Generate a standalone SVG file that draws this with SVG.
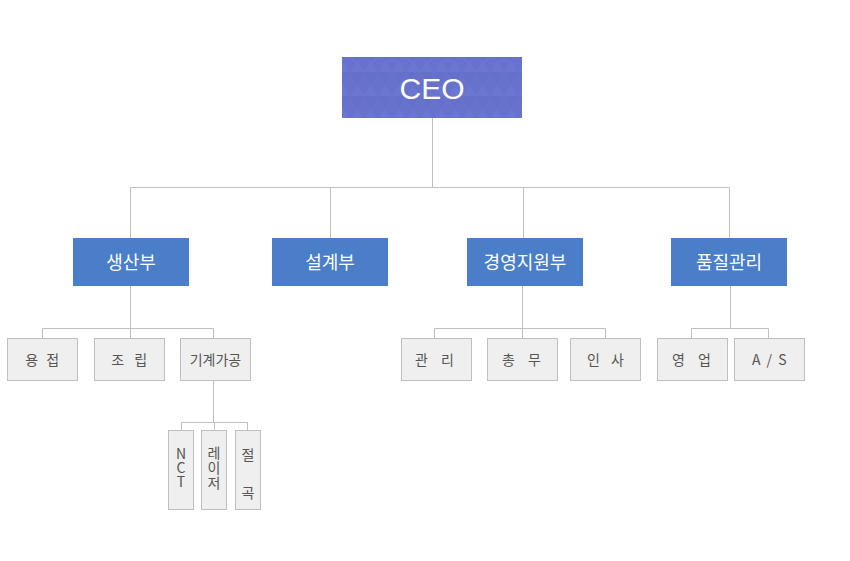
<svg xmlns="http://www.w3.org/2000/svg" width="850" height="561" viewBox="0 0 850 561">
<style>
.ln{stroke:#bfbfbf;stroke-width:1;fill:none}
.l2{fill:#4a7ec9}
.l3{fill:#efefef;stroke:#bfbfbf;stroke-width:1}
.t2{font-family:"Noto Sans CJK KR","Noto Sans",sans-serif;font-size:18px;fill:#ffffff;text-anchor:middle}
.t3{font-family:"Noto Sans CJK KR","Noto Sans",sans-serif;font-size:14px;fill:#555555;text-anchor:middle}
.vt{writing-mode:vertical-rl;text-orientation:upright}
</style>
<defs>
<pattern id="tri" width="28" height="24" patternUnits="userSpaceOnUse">
<rect width="28" height="24" fill="#6672cb"/>
<path d="M0 24 L14 0 L28 24 Z" fill="#6b77cf" opacity="0.8"/>
<path d="M0 0 L14 24 L28 0" fill="#616dc8" opacity="0.5"/>
</pattern>
</defs>
<rect width="850" height="561" fill="#ffffff"/>
<g id="connectors">
<path class="ln" d="M432.5 118 V187.5 M130.5 187.5 H729.5 M130.5 187.5 V238 M330.5 187.5 V238 M523.5 187.5 V238 M729.5 187.5 V238"/>
<path class="ln" d="M130.5 286 V328.5 M42.5 328.5 H213.5 M42.5 328.5 V338 M130.5 328.5 V338 M213.5 328.5 V338"/>
<path class="ln" d="M213.5 380 V422.5 M181.5 422.5 H247.5 M181.5 422.5 V430 M214.5 422.5 V430 M247.5 422.5 V430"/>
<path class="ln" d="M522.5 286 V328.5 M434.5 328.5 H605.5 M434.5 328.5 V338 M522.5 328.5 V338 M605.5 328.5 V338"/>
<path class="ln" d="M730.5 286 V328.5 M691.5 328.5 H768.5 M691.5 328.5 V338 M768.5 328.5 V338"/>
</g>
<g id="ceo">
<rect x="342" y="57" width="180" height="61" fill="url(#tri)"/>
<text x="432" y="99" font-family="Liberation Sans,Arial,sans-serif" font-size="30" fill="#ffffff" text-anchor="middle">CEO</text>
</g>
<g id="production"><rect class="l2" x="73" y="238" width="116" height="48"/><text class="t2" x="131" y="268.5">생산부</text></g>
<g id="design"><rect class="l2" x="272" y="238" width="116" height="48"/><text class="t2" x="330" y="268.5">설계부</text></g>
<g id="management"><rect class="l2" x="467" y="238" width="116" height="48"/><text class="t2" x="525" y="268.5">경영지원부</text></g>
<g id="quality"><rect class="l2" x="671" y="238" width="116" height="48"/><text class="t2" x="729" y="268.5">품질관리</text></g>
<g id="welding"><rect class="l3" x="7.5" y="338.5" width="70" height="42"/><text class="t3" x="43.5" y="364.5" letter-spacing="2.5">용 접</text></g>
<g id="assembly"><rect class="l3" x="94.5" y="338.5" width="70" height="42"/><text class="t3" x="131" y="364.5" letter-spacing="3.5">조 립</text></g>
<g id="machining"><rect class="l3" x="180.5" y="338.5" width="70" height="42"/><text class="t3" x="215.5" y="364.5">기계가공</text></g>
<g id="nct"><rect class="l3" x="168.5" y="430.5" width="25" height="79"/>
<text class="t3 vt" x="181" y="468">NCT</text></g>
<g id="laser"><rect class="l3" x="201.5" y="430.5" width="25" height="79"/>
<text class="t3 vt" x="214" y="468" letter-spacing="1">레이저</text></g>
<g id="bending"><rect class="l3" x="235.5" y="430.5" width="25" height="79"/>
<text class="t3" x="248" y="459.5">절</text><text class="t3" x="248" y="498">곡</text></g>
<g id="admin"><rect class="l3" x="401.5" y="338.5" width="70" height="42"/><text class="t3" x="437" y="364.5" letter-spacing="5">관 리</text></g>
<g id="general"><rect class="l3" x="487.5" y="338.5" width="70" height="42"/><text class="t3" x="524" y="364.5" letter-spacing="5">총 무</text></g>
<g id="hr"><rect class="l3" x="570.5" y="338.5" width="70" height="42"/><text class="t3" x="607.5" y="364.5" letter-spacing="4">인 사</text></g>
<g id="sales"><rect class="l3" x="657.5" y="338.5" width="70" height="42"/><text class="t3" x="694" y="364.5" letter-spacing="5">영 업</text></g>
<g id="as"><rect class="l3" x="734.5" y="338.5" width="70" height="42"/><text class="t3" x="770" y="364.5" letter-spacing="1.5">A / S</text></g>
</svg>
